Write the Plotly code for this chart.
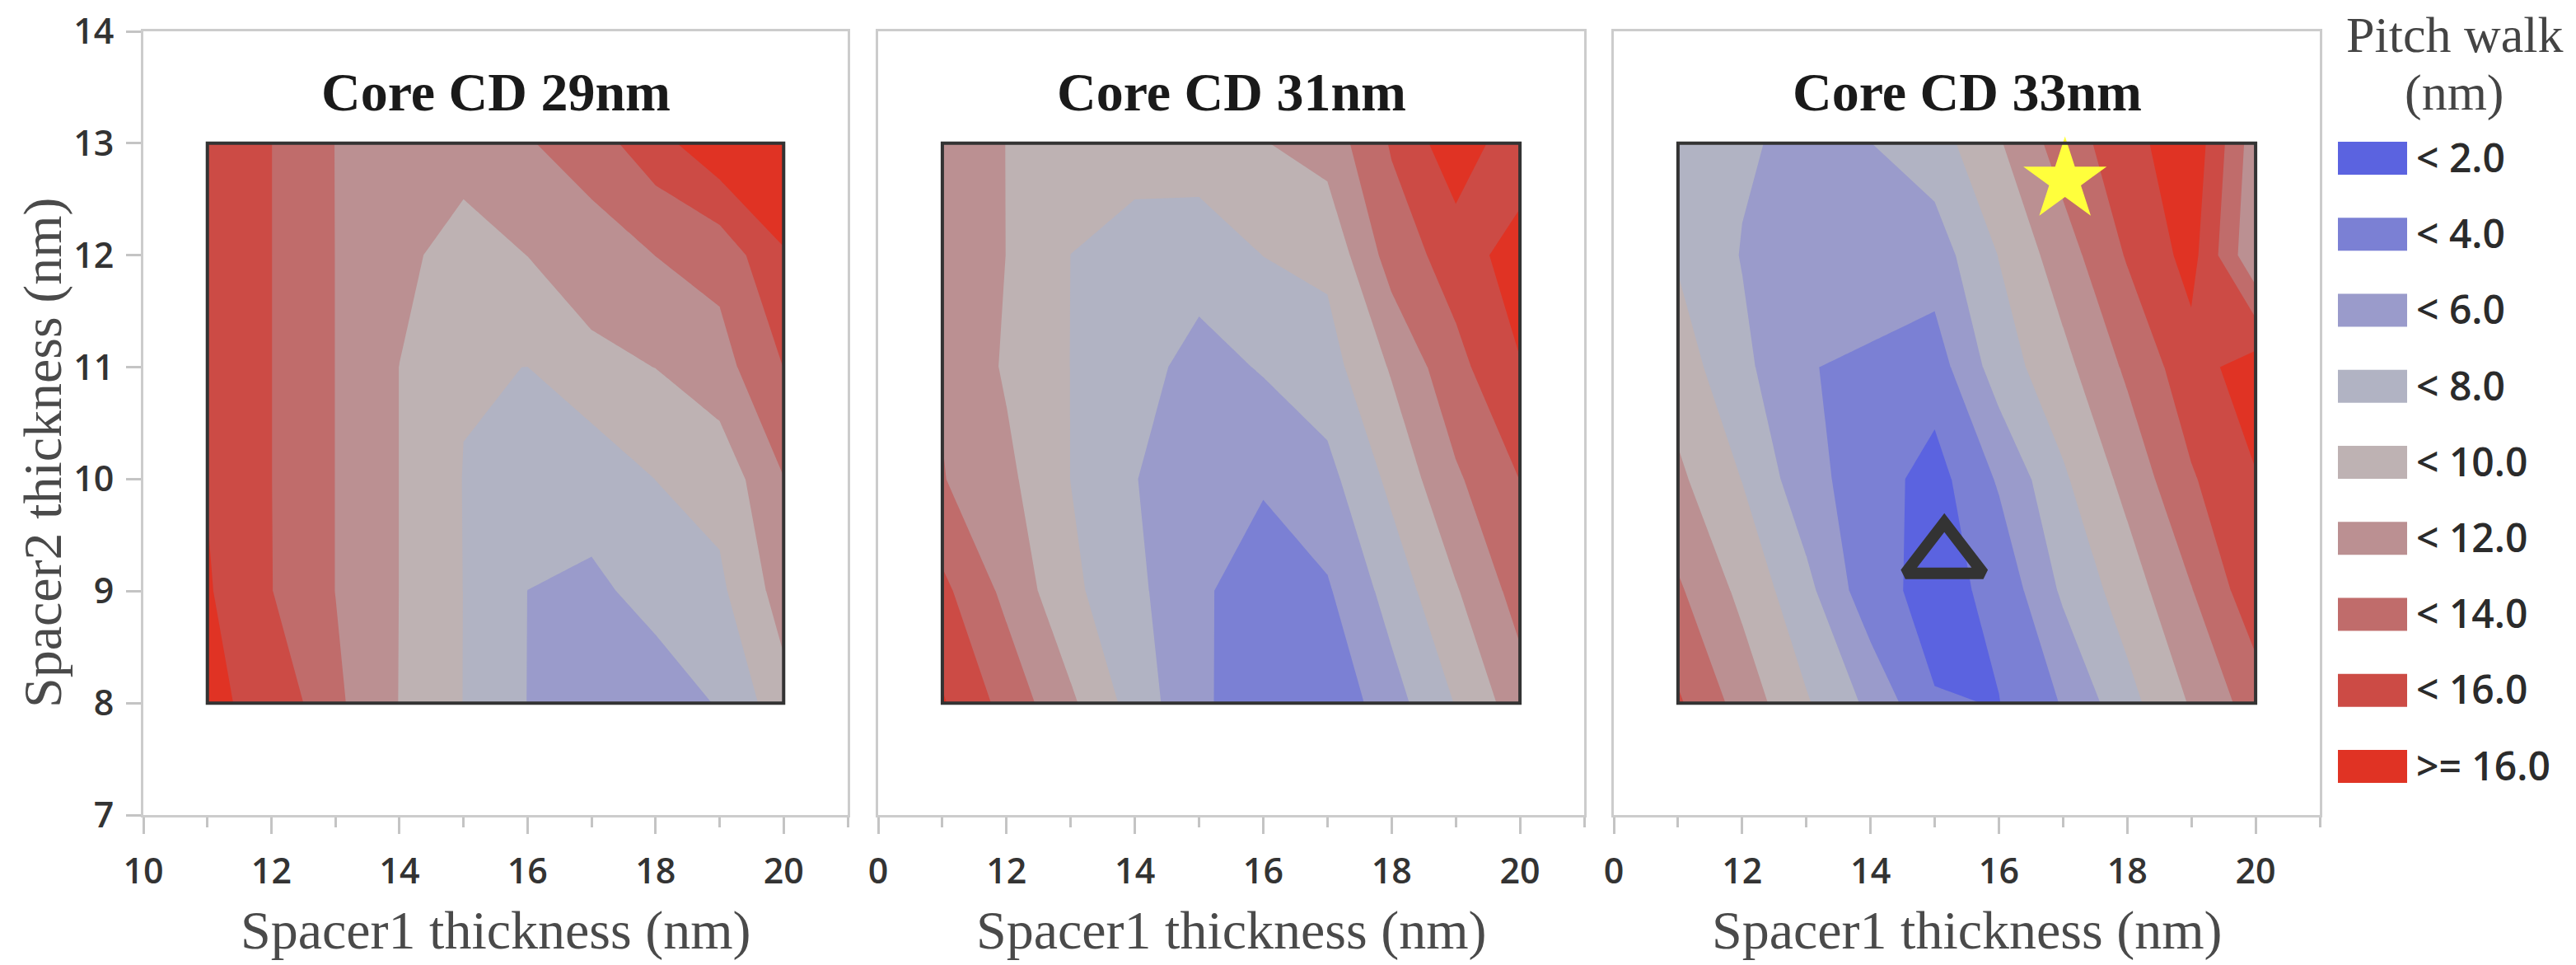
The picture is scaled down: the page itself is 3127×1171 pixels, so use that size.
import plotly.graph_objects as go

# grid of the response surface
spacer1 = [11, 12, 13, 14, 15, 16, 17, 18, 19, 20]
spacer2 = [8, 9, 10, 11, 12, 13]

# pitch walk (nm), one row per spacer2 value
pw_cd29 = [
    [16.27, 15.6, 12.4, 9.95, 7.97, 5.97, 5.0, 5.5, 6.07, 9.29],
    [16.2, 14.05, 11.98, 9.98, 7.98, 5.99, 5.8, 6.32, 7.6, 10.9],
    [15.9, 14.02, 11.98, 9.98, 7.95, 7.0, 6.45, 8.02, 8.68, 11.95],
    [15.7, 14.02, 11.98, 9.98, 8.1, 7.99, 9.55, 10.02, 11.22, 14.02],
    [15.6, 14.02, 11.98, 10.6, 9.0, 10.02, 10.9, 12.02, 12.66, 15.9],
    [15.5, 14.02, 11.97, 11.3, 11.0, 11.83, 13.1, 15.2, 17.6, 17.2],
]
pw_cd31 = [
    [16.2, 13.3, 10.35, 7.17, 4.3, 3.0, 2.4, 5.2, 8.1, 11.1],
    [14.5, 11.49, 8.45, 6.5, 4.25, 3.2, 3.76, 6.79, 9.82, 12.8],
    [12.1, 10.47, 7.98, 6.1, 4.1, 4.18, 5.375, 8.5, 11.7, 14.03],
    [11.8, 9.75, 7.98, 6.9, 5.17, 6.18, 7.18, 10.21, 13.4, 15.9],
    [11.4, 9.98, 7.99, 7.3, 7.0, 8.02, 8.44, 12.89, 14.9, 17.0],
    [11.0, 9.98, 9.0, 8.7, 8.92, 9.91, 10.81, 14.2, 17.3, 14.6],
]
pw_cd33 = [
    [14.28, 11.2, 8.2, 5.53, 2.125, 1.95, 4.15, 7.34, 10.2, 12.97],
    [12.3, 9.5, 6.6, 2.73, 1.3, 2.5, 6.33, 8.95, 11.9, 15.3],
    [10.4, 7.95, 4.7, 2.94, 1.2, 4.24, 7.7, 10.62, 13.8, 15.9],
    [9.0, 6.5, 4.1, 3.6, 3.0, 6.99, 9.4, 12.35, 15.2, 17.0],
    [7.8, 5.9, 5.0, 5.4, 5.0, 8.06, 11.07, 14.18, 16.7, 10.2],
    [7.3, 6.25, 5.5, 5.98, 7.1, 9.8, 12.97, 15.2, 17.5, 10.8],
]
panel_titles = ["Core CD 29nm", "Core CD 31nm", "Core CD 33nm"]

# highlighted points on the CD 33nm map
star_x, star_y = [17.03], [12.67]
tri_x, tri_y = [15.15], [9.31]

band_labels = ["< 2.0", "< 4.0", "< 6.0", "< 8.0", "< 10.0", "< 12.0", "< 14.0", "< 16.0", ">= 16.0"]
band_colors = ["#5B63E0", "#7B80D4", "#9A9BCB", "#B1B3C3", "#BEB2B3",
               "#BB9092", "#C06C6B", "#CC4B45", "#E03324"]

x_tickvals = [10, 12, 14, 16, 18, 20]
x_ticktext_first = ["10", "12", "14", "16", "18", "20"]
x_ticktext_rest = ["0", "12", "14", "16", "18", "20"]
x_minor = [11, 13, 15, 17, 19, 21]

W, H = 3127, 1171
OFF = 8  # the page body margin pushes the figure 8px right and down


def fx(px):
    return (px - OFF) / W


def fy(py):
    return 1 - (py - OFF) / H


x_domains = [[fx(174), fx(1029)], [fx(1066), fx(1923)], [fx(1959), fx(2816)]]
y_domain = [fy(989), fy(38)]

n = len(band_colors)
colorscale = [[i / (n - 1), c] for i, c in enumerate(band_colors)]

tick_font = dict(family="Open Sans", size=43, color="#333333", weight=600)
serif = "Liberation Serif"

fig = go.Figure()

for i, z in enumerate([pw_cd29, pw_cd31, pw_cd33]):
    sfx = "" if i == 0 else str(i + 1)
    fig.add_trace(go.Contour(
        x=spacer1, y=spacer2, z=z,
        autocontour=False,
        contours=dict(start=2, end=16, size=2, coloring="fill", showlines=False),
        colorscale=colorscale, showscale=False,
        line=dict(width=0, smoothing=0),
        xaxis="x" + sfx, yaxis="y" + sfx, hoverinfo="skip",
    ))
    # dark border around the fitted region
    fig.add_shape(type="rect", xref="x" + sfx, yref="y" + sfx,
                  x0=min(spacer1), x1=max(spacer1), y0=min(spacer2), y1=max(spacer2),
                  line=dict(color="#333333", width=4), layer="above")

    fig.update_layout({
        "xaxis" + sfx: dict(
            domain=x_domains[i], range=[10, 21], anchor="y" + sfx, automargin=False,
            tickmode="array", tickvals=x_tickvals,
            ticktext=x_ticktext_first if i == 0 else x_ticktext_rest,
            ticks="outside", ticklen=20, tickwidth=3, tickcolor="#c4c4c4",
            minor=dict(tickvals=x_minor, ticks="outside", ticklen=12, tickwidth=3, tickcolor="#c4c4c4"),
            showline=True, linecolor="#cccccc", linewidth=3, mirror=True,
            showgrid=False, zeroline=False, tickfont=tick_font, ticklabelstandoff=8,
            ticklabeloverflow="allow",
        ),
        "yaxis" + sfx: dict(
            domain=y_domain, range=[7, 14], anchor="x" + sfx, dtick=1, automargin=False,
            ticks="outside" if i == 0 else "", ticklen=18, tickwidth=3, tickcolor="#c4c4c4",
            showticklabels=(i == 0),
            showline=True, linecolor="#cccccc", linewidth=3, mirror=True,
            showgrid=False, zeroline=False, tickfont=tick_font, ticklabelstandoff=6,
            ticklabeloverflow="allow",
        ),
    })

    fig.add_annotation(text=panel_titles[i], xref="x" + sfx + " domain", yref="paper",
                       x=0.5, y=fy(111), xanchor="center", yanchor="middle", showarrow=False,
                       font=dict(family=serif, size=66, color="#1a1a1a", weight="bold"))
    fig.add_annotation(text="Spacer1 thickness (nm)", xref="x" + sfx + " domain", yref="paper",
                       x=0.5, y=fy(1129), xanchor="center", yanchor="middle", showarrow=False,
                       font=dict(family=serif, size=66, color="#4a4a4a"))

fig.add_trace(go.Scatter(
    x=star_x, y=star_y, mode="markers", xaxis="x3", yaxis="y3", hoverinfo="skip",
    marker=dict(symbol="star", size=76, color="#FFFF3C", line=dict(width=0)),
))
fig.add_trace(go.Scatter(
    x=tri_x, y=tri_y, mode="markers", xaxis="x3", yaxis="y3", hoverinfo="skip",
    marker=dict(symbol="triangle-up-open", size=82, color="#333333", line=dict(width=14, color="#333333")),
))

fig.add_annotation(text="Spacer2 thickness (nm)", xref="paper", yref="paper",
                   x=fx(52), y=fy(549), textangle=-90, xanchor="center", yanchor="middle",
                   showarrow=False, font=dict(family=serif, size=66, color="#4a4a4a"))

# colour key, drawn as a small bar chart on its own axes
fig.add_trace(go.Bar(
    x=[1] * len(band_labels), y=band_labels, orientation="h",
    marker=dict(color=band_colors, line=dict(width=0)),
    xaxis="x4", yaxis="y4", hoverinfo="skip",
))
fig.update_layout(
    xaxis4=dict(domain=[fx(2838), fx(2922)], range=[0, 1], anchor="y4", visible=False, automargin=False),
    yaxis4=dict(domain=[fy(976), fy(146)], anchor="x4", type="category", automargin=False,
                categoryorder="array", categoryarray=band_labels, autorange="reversed",
                side="right", ticks="", showline=False, showgrid=False, zeroline=False,
                tickfont=dict(family="Open Sans", size=48, color="#2b2b2b", weight=600),
                ticklabelstandoff=10, ticklabeloverflow="allow"),
    bargap=0.566,
)
fig.add_annotation(text="Pitch walk", xref="paper", yref="paper", x=fx(2979), y=fy(42),
                   xanchor="center", yanchor="middle", showarrow=False,
                   font=dict(family=serif, size=62, color="#444444"))
fig.add_annotation(text="(nm)", xref="paper", yref="paper", x=fx(2979), y=fy(112),
                   xanchor="center", yanchor="middle", showarrow=False,
                   font=dict(family=serif, size=62, color="#444444"))

fig.update_layout(
    width=W, height=H, margin=dict(l=0, r=0, t=0, b=0),
    paper_bgcolor="white", plot_bgcolor="white", showlegend=False,
)

fig.write_html("out.html")
